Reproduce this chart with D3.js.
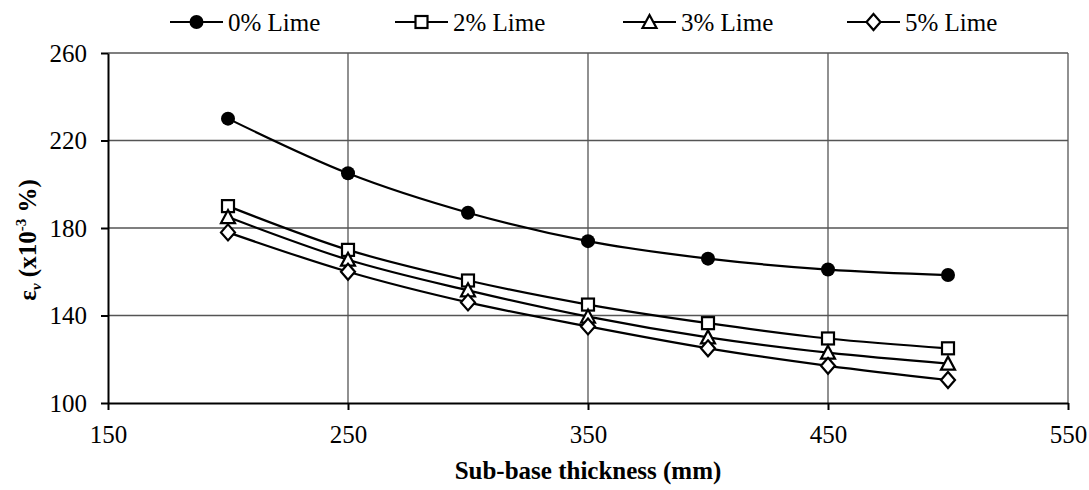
<!DOCTYPE html>
<meta charset="utf-8">
<style>
	body { margin: 0; background: #fff; }
	.grid line { stroke: #555; stroke-width: 1.3; }
	.axis path, .axis line { stroke: #000; stroke-width: 2; }
	.series { fill: none; stroke: #000; stroke-width: 2.2; }
</style>
<div class="vis"></div>
<script src="https://d3js.org/d3.v7.min.js"></script>
<script>
	// ---- //
	// Data //
	// ---- //
	const thickness = [200, 250, 300, 350, 400, 450, 500];
	const lime0 = [230, 205, 187, 174, 166, 161, 158.5];
	const lime2 = [190, 170, 156, 145, 136.5, 129.5, 125];
	const lime3 = [185, 165.5, 151.5, 139.5, 130, 123, 118];
	const lime5 = [178, 160, 146, 135, 125, 117, 110.5];
	const seriesNames = ["0% Lime", "2% Lime", "3% Lime", "5% Lime"];
	const xTicks = [150, 250, 350, 450, 550];
	const yTicks = [100, 140, 180, 220, 260];

	const series = [lime0, lime2, lime3, lime5].map((vals, i) => ({
		name: seriesNames[i],
		marker: ["circle", "square", "triangle", "diamond"][i],
		points: vals.map((v, j) => ({ x: thickness[j], y: v }))
	}));

	const FONT = "'Liberation Serif', 'Times New Roman', serif";

	// Setup
	const W = 1089, H = 490;
	const margin = { left: 108, right: 21, top: 53, bottom: 87 };
	const width = W - margin.left - margin.right,
		height = H - margin.top - margin.bottom;

	const x = d3.scaleLinear().domain([150, 550]).range([0, width]);
	const y = d3.scaleLinear().domain([100, 260]).range([height, 0]);

	const svg = d3.select(".vis").append("svg")
		.attr("width", W)
		.attr("height", H)
		.append("g")
		.attr("transform", "translate(" + margin.left + "," + margin.top + ")");

	// GRID
	const grid = svg.append("g").attr("class", "grid");
	grid.selectAll(".h").data(yTicks.slice(1)).enter().append("line")
		.attr("x1", 0).attr("x2", width)
		.attr("y1", d => y(d)).attr("y2", d => y(d));
	grid.selectAll(".v").data(xTicks.slice(1)).enter().append("line")
		.attr("y1", 0).attr("y2", height)
		.attr("x1", d => x(d)).attr("x2", d => x(d));

	// AXES
	const xAxisG = svg.append("g")
		.attr("class", "axis")
		.attr("transform", "translate(0," + height + ")")
		.call(d3.axisBottom(x).tickValues(xTicks).tickSize(7).tickSizeOuter(0).tickPadding(10));
	xAxisG.selectAll("text").attr("dy", "0.9em");
	const yAxisG = svg.append("g")
		.attr("class", "axis")
		.call(d3.axisLeft(y).tickValues(yTicks).tickSize(7).tickSizeOuter(0).tickPadding(14));
	[xAxisG, yAxisG].forEach(g => g.attr("font-size", 25).attr("font-family", FONT));

	// LINES
	const line = d3.line()
		.x(d => x(d.x))
		.y(d => y(d.y))
		.curve(d3.curveCatmullRom.alpha(0));

	svg.selectAll(".series").data(series).enter().append("path")
		.attr("class", "series")
		.attr("d", d => line(d.points));

	// MARKERS
	function drawMarker(g, type) {
		if (type === "circle") {
			g.append("circle").attr("r", 7).attr("fill", "#000");
		} else if (type === "square") {
			g.append("rect").attr("x", -6).attr("y", -6).attr("width", 12).attr("height", 12)
				.attr("fill", "#fff").attr("stroke", "#000").attr("stroke-width", 2.2);
		} else if (type === "triangle") {
			g.append("path").attr("d", "M0,-7L7,6L-7,6Z")
				.attr("fill", "#fff").attr("stroke", "#000").attr("stroke-width", 2.2);
		} else {
			g.append("path").attr("d", "M0,-8L7,0L0,8L-7,0Z")
				.attr("fill", "#fff").attr("stroke", "#000").attr("stroke-width", 2.2);
		}
	}

	series.forEach(s => {
		s.points.forEach(p => {
			const g = svg.append("g").attr("transform", "translate(" + x(p.x) + "," + y(p.y) + ")");
			drawMarker(g, s.marker);
		});
	});

	// LEGEND
	const legendX = [170, 395, 623, 847];
	const legend = d3.select("svg").append("g");
	series.forEach((s, i) => {
		const g = legend.append("g").attr("transform", "translate(" + legendX[i] + ",22)");
		g.append("line").attr("x1", 0).attr("x2", 53).attr("y1", 0).attr("y2", 0)
			.attr("stroke", "#000").attr("stroke-width", 2.2);
		drawMarker(g.append("g").attr("transform", "translate(26.5,0)"), s.marker);
		g.append("text")
			.attr("x", 58).attr("y", 9)
			.attr("font-size", 25)
			.text(s.name);
	});

	// X LABEL
	svg.append("text")
		.attr("x", width / 2)
		.attr("y", height + 76)
		.attr("font-size", 25)
		.attr("font-weight", "bold")
		.style("text-anchor", "middle")
		.text("Sub-base thickness (mm)");

	// Y LABEL
	const yl = svg.append("text")
		.attr("transform", "rotate(-90)")
		.attr("x", -height / 2 - 12)
		.attr("y", -72)
		.attr("font-size", 25)
		.attr("font-weight", "bold")
		.style("text-anchor", "middle");
	yl.append("tspan").text("ε");
	yl.append("tspan").attr("font-size", 15).attr("font-style", "italic").attr("dy", 5).text("v");
	yl.append("tspan").attr("dy", -5).text(" (x10");
	yl.append("tspan").attr("font-size", 15).attr("dy", -10).text("-3");
	yl.append("tspan").attr("dy", 10).text(" %)");

	d3.selectAll("text").style("font-family", FONT);
</script>
